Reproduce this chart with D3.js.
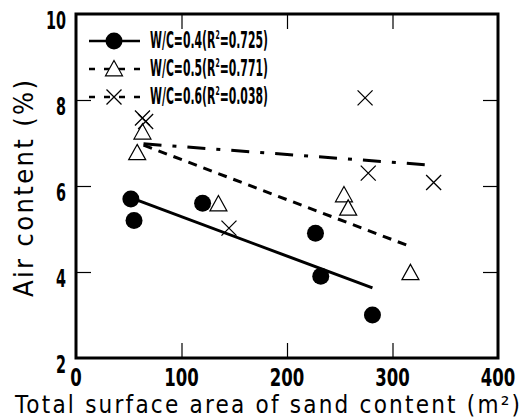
<!DOCTYPE html>
<html>
<head>
<meta charset="utf-8">
<script src="https://cdn.jsdelivr.net/npm/d3@7"></script>
<style>
  body { margin: 0; background: #fff; }
  text { font-family: "DejaVu Sans Condensed", "DejaVu Sans", sans-serif; fill: #000; }
</style>
</head>
<body>
<script>
const width = 526;
const height = 420;

// measured points
const wc04X = [52, 55, 120, 227, 232, 281];
const wc04Y = [5.7, 5.2, 5.6, 4.9, 3.9, 3.0];
const wc05X = [58, 63, 135, 254, 258, 317];
const wc05Y = [6.77, 7.25, 5.58, 5.79, 5.48, 3.98];
const wc06X = [63, 66, 145, 274, 277, 339];
const wc06Y = [7.58, 7.5, 5.02, 8.05, 6.3, 6.08];

// regression line end points
const fit04 = [[58, 5.67], [281, 3.63]];
const fit05 = [[64, 6.95], [314, 4.62]];
const fit06 = [[64, 6.98], [339, 6.48]];

const xTicks = [0, 100, 200, 300, 400];
const yTicks = [2, 4, 6, 8, 10];
const legendNames = ['W/C=0.4', 'W/C=0.5', 'W/C=0.6'];
const legendR2 = ['0.725', '0.771', '0.038'];

const x = d3.scaleLinear().domain([0, 400]).range([76, 498]);
const y = d3.scaleLinear().domain([2, 10]).range([358, 14]);

const svg = d3.select('body').append('svg')
  .attr('width', width)
  .attr('height', height);

// squeeze a text horizontally to a given width, keeping its anchor point
function squeeze(sel, w, ax, ay) {
  sel.each(function () {
    const bw = this.getBBox().width;
    const sx = w / bw;
    d3.select(this).attr('transform',
      `translate(${ax},${ay}) scale(${sx},1) translate(${-ax},${-ay})`);
  });
}

// inner ticks
const tick = 15;
svg.append('g')
  .attr('transform', `translate(0,${y(2)})`)
  .call(d3.axisBottom(x).tickValues(xTicks.slice(1, -1)).tickSize(-tick).tickFormat(''))
  .call(g => g.select('.domain').remove());
svg.append('g')
  .attr('transform', `translate(0,${y(10)})`)
  .call(d3.axisTop(x).tickValues(xTicks.slice(1, -1)).tickSize(-tick).tickFormat(''))
  .call(g => g.select('.domain').remove());
svg.append('g')
  .attr('transform', `translate(${x(0)},0)`)
  .call(d3.axisLeft(y).tickValues(yTicks.slice(1, -1)).tickSize(-tick).tickFormat(''))
  .call(g => g.select('.domain').remove());
svg.append('g')
  .attr('transform', `translate(${x(400)},0)`)
  .call(d3.axisRight(y).tickValues(yTicks.slice(1, -1)).tickSize(-tick).tickFormat(''))
  .call(g => g.select('.domain').remove());
svg.selectAll('.tick line').attr('stroke', '#000').attr('stroke-width', 1.2);

// frame
svg.append('rect')
  .attr('x', x(0)).attr('y', y(10))
  .attr('width', x(400) - x(0)).attr('height', y(2) - y(10))
  .attr('fill', 'none').attr('stroke', '#000').attr('stroke-width', 3);

// tick labels
svg.selectAll('.ylab').data(yTicks).join('text')
  .attr('class', 'ylab')
  .attr('x', 66).attr('y', d => y(d) + 15)
  .attr('text-anchor', 'end')
  .attr('font-size', 24).attr('font-weight', 'bold')
  .text(d => d)
  .each(function (d) { squeeze(d3.select(this), String(d).length * 10, 66, y(d) + 15); });

svg.selectAll('.xlab').data(xTicks).join('text')
  .attr('class', 'xlab')
  .attr('x', d => x(d)).attr('y', 386)
  .attr('text-anchor', 'middle')
  .attr('font-size', 25).attr('font-weight', 'bold')
  .text(d => d)
  .each(function (d) { squeeze(d3.select(this), String(d).length * 11.5, x(d), 386); });

// axis titles
svg.append('text')
  .attr('x', 15).attr('y', 413)
  .attr('font-size', 24)
  .attr('textLength', 505)
  .attr('lengthAdjust', 'spacing')
  .text('Total surface area of sand content (m²)');

svg.append('text')
  .attr('transform', 'translate(33,297) rotate(-90)')
  .attr('font-size', 27)
  .attr('textLength', 217)
  .attr('lengthAdjust', 'spacing')
  .text('Air content (%)');

// regression lines
const line = d3.line().x(d => x(d[0])).y(d => y(d[1]));
svg.append('path').attr('d', line(fit04))
  .attr('fill', 'none').attr('stroke', '#000').attr('stroke-width', 3);
svg.append('path').attr('d', line(fit05))
  .attr('fill', 'none').attr('stroke', '#000').attr('stroke-width', 3)
  .attr('stroke-dasharray', '9,7');
svg.append('path').attr('d', line(fit06))
  .attr('fill', 'none').attr('stroke', '#000').attr('stroke-width', 3)
  .attr('stroke-dasharray', '18,11,4,11');

// markers
function circle(g, cx, cy) {
  g.append('circle').attr('cx', cx).attr('cy', cy).attr('r', 8.5).attr('fill', '#000');
}
function tri(g, cx, cy) {
  const s = 8.5;
  g.append('path')
    .attr('d', `M${cx},${cy - s}L${cx + s},${cy + s * 0.8}L${cx - s},${cy + s * 0.8}Z`)
    .attr('fill', '#fff').attr('stroke', '#000').attr('stroke-width', 1.2);
}
function cross(g, cx, cy) {
  const s = 7.5;
  g.append('path')
    .attr('d', `M${cx - s},${cy - s}L${cx + s},${cy + s}M${cx - s},${cy + s}L${cx + s},${cy - s}`)
    .attr('fill', 'none').attr('stroke', '#000').attr('stroke-width', 1.3);
}

const pts = svg.append('g');
wc05X.forEach((v, i) => tri(pts, x(v), y(wc05Y[i])));
wc06X.forEach((v, i) => cross(pts, x(v), y(wc06Y[i])));
wc04X.forEach((v, i) => circle(pts, x(v), y(wc04Y[i])));

// legend
const leg = svg.append('g');
const rowY = [41, 69, 97];
const dashes = [null, '6,9', '6,9'];
const markers = [circle, tri, cross];
rowY.forEach((ry, i) => {
  leg.append('line')
    .attr('x1', 89).attr('x2', 140).attr('y1', ry).attr('y2', ry)
    .attr('stroke', '#000').attr('stroke-width', 2.5)
    .attr('stroke-dasharray', dashes[i]);
  markers[i](leg, 114, ry);
  const t = leg.append('text')
    .attr('x', 150).attr('y', ry + 7)
    .attr('font-size', 23).attr('font-weight', 'bold');
  t.append('tspan').text(legendNames[i] + '(R');
  t.append('tspan').attr('dy', -9).attr('font-size', 13).text('2');
  t.append('tspan').attr('dy', 9).text('=' + legendR2[i] + ')');
  squeeze(t, 118, 150, ry + 7);
});
</script>
</body>
</html>
